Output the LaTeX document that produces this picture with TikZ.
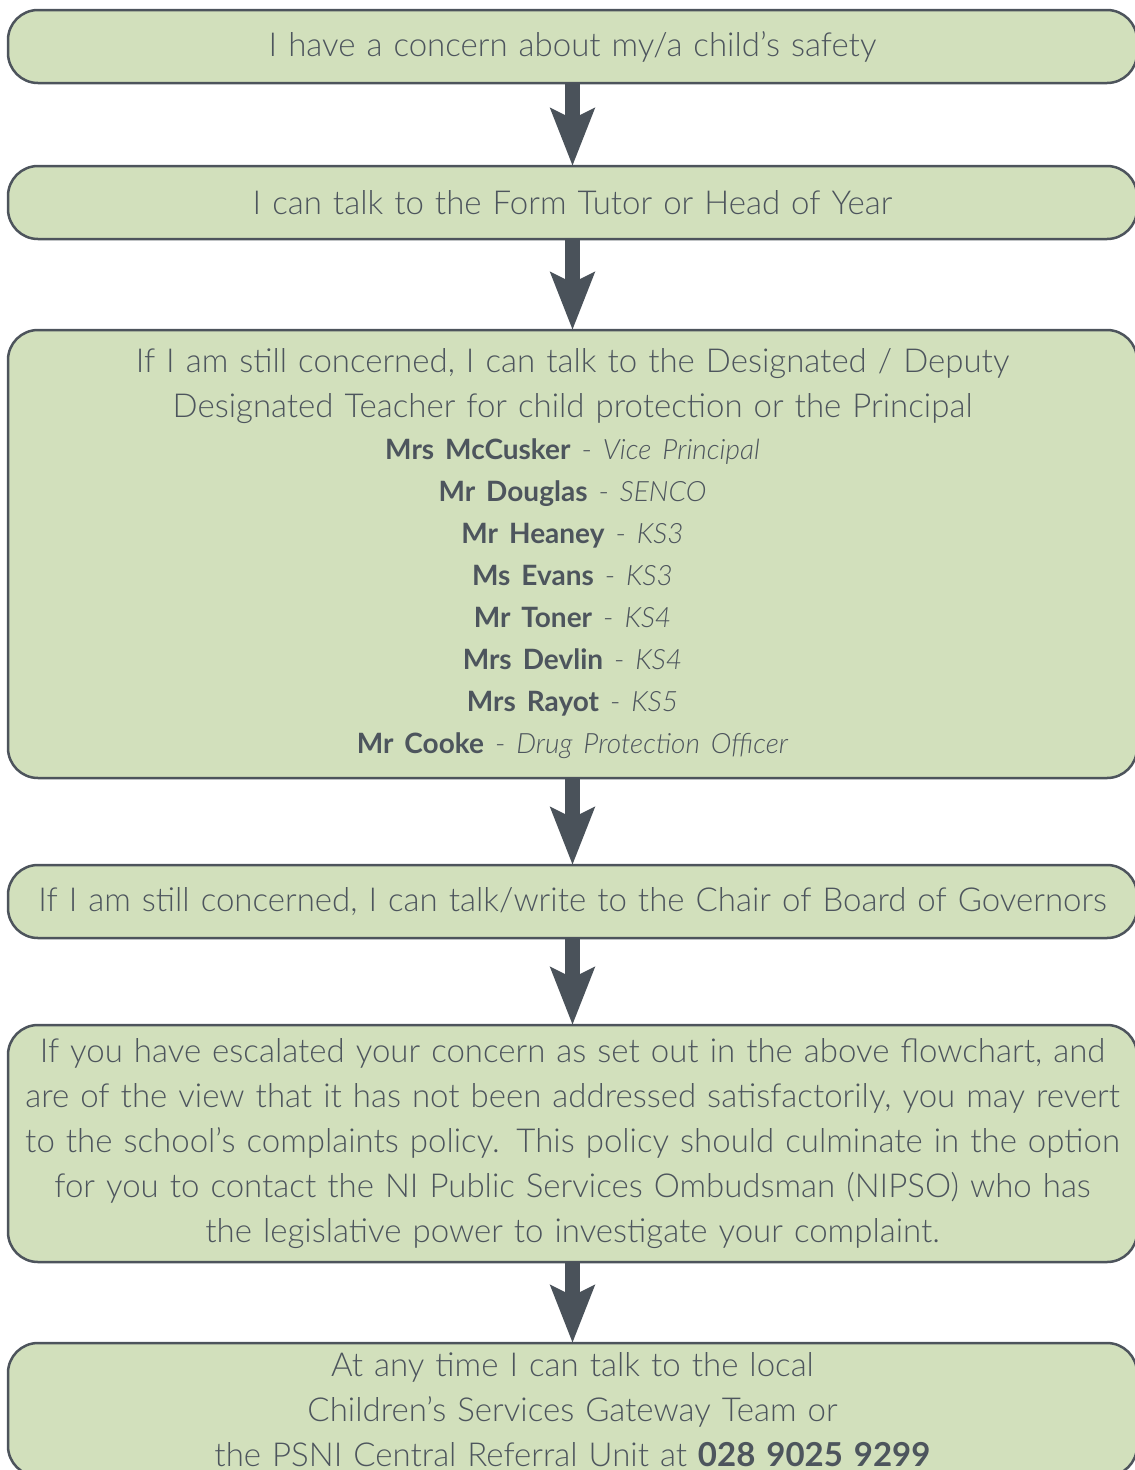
\documentclass[tikz,border=0pt]{standalone}
\usepackage{fontspec}
\setmainfont{Lato}[UprightFont=* Light, ItalicFont=* Light Italic, BoldFont=* Bold, BoldItalicFont=* Bold Italic]
\usepackage{xcolor}
\usetikzlibrary{arrows.meta, positioning}

\definecolor{boxfill}{RGB}{210,224,188}
\definecolor{boxline}{RGB}{77,84,92}
\definecolor{arrowgray}{RGB}{74,82,90}
\definecolor{txtgray}{RGB}{77,85,93}

\newcommand{\staff}[2]{\textbf{#1} - \textit{#2}}

\begin{document}
\begin{tikzpicture}[
    x=1pt, y=1pt,
    node distance=85pt,
    stepbox/.style={rectangle, draw=boxline, fill=boxfill, line width=2.5pt, rounded corners=30pt, text width=1110pt, minimum width=1129pt, align=center, inner sep=0pt, outer sep=0pt, font=\fontsize{33}{45}\selectfont, text=txtgray},
    flow/.style={line width=15pt, draw=arrowgray, -{Stealth[length=57pt, width=43pt, inset=10pt]}}
]
    \useasboundingbox (0,0) rectangle (1135,-1470);

    % Nodes
    \node (concern) [stepbox, minimum height=73pt] at (572.5,-46.5) {I have a concern about my/a child's safety};

    \node (tutor) [stepbox, minimum height=73pt, below=83pt of concern] {I can talk to the Form Tutor or Head of Year};

    \node (designated) [stepbox, minimum height=448pt, below=91pt of tutor] {If I am still concerned, I can talk to the Designated / Deputy\\
        Designated Teacher for child protection or the Principal\\
        {\fontsize{28}{42}\selectfont
        \staff{Mrs McCusker}{Vice Principal}\\
        \staff{Mr Douglas}{SENCO}\\
        \staff{Mr Heaney}{KS3}\\
        \staff{Ms Evans}{KS3}\\
        \staff{Mr Toner}{KS4}\\
        \staff{Mrs Devlin}{KS4}\\
        \staff{Mrs Rayot}{KS5}\\
        \staff{Mr Cooke}{Drug Protection Officer}\par}};

    \node (governors) [stepbox, minimum height=73pt, below=87pt of designated] {If I am still concerned, I can talk/write to the Chair of Board of Governors};

    \node (complaints) [stepbox, minimum height=237pt, below=87pt of governors] {If you have escalated your concern as set out in the above flowchart, and\\
        are of the view that it has not been addressed satisfactorily, you may revert\\
        to the school's complaints policy. This policy should culminate in the option\\
        for you to contact the NI Public Services Ombudsman (NIPSO) who has\\
        the legislative power to investigate your complaint.};

    \node (gateway) [stepbox, minimum height=133pt, below=81pt of complaints] {At any time I can talk to the local\\
        Children's Services Gateway Team or\\
        the PSNI Central Referral Unit at \textbf{028 9025 9299}};

    % Flows
    \draw [flow] (concern) -- (tutor);
    \draw [flow] (tutor) -- (designated);
    \draw [flow] (designated) -- (governors);
    \draw [flow] (governors) -- (complaints);
    \draw [flow] (complaints) -- (gateway);

\end{tikzpicture}
\end{document}
